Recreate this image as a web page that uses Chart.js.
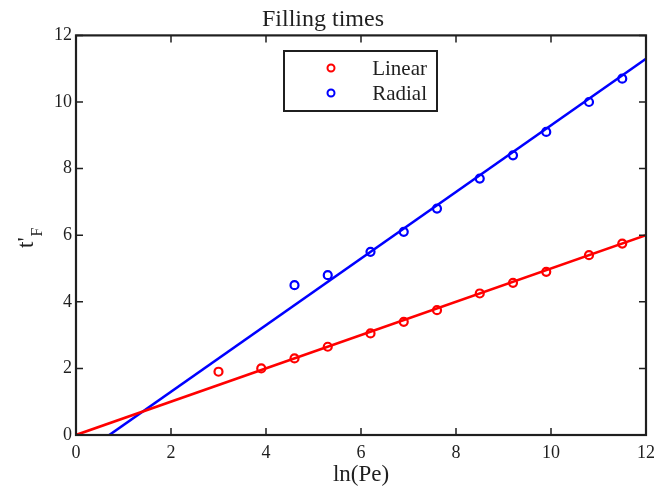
<!DOCTYPE html>
<html>
<head>
<meta charset="utf-8">
<script src="https://cdn.jsdelivr.net/npm/chart.js@4.4.1/dist/chart.umd.min.js"></script>
<style>
  html, body { margin: 0; padding: 0; background: #fff; }
  #wrap { width: 667px; height: 489px; }
</style>
</head>
<body>
<div id="wrap"><canvas id="chart"></canvas></div>
<script>
// data
const linearLnPe = [3.0, 3.9, 4.6, 5.3, 6.2, 6.9, 7.6, 8.5, 9.2, 9.9, 10.8, 11.5];
const linearTF = [1.9, 2.0, 2.3, 2.65, 3.05, 3.4, 3.75, 4.25, 4.57, 4.9, 5.4, 5.75];
const radialLnPe = [4.6, 5.3, 6.2, 6.9, 7.6, 8.5, 9.2, 9.9, 10.8, 11.5];
const radialTF = [4.5, 4.8, 5.5, 6.1, 6.8, 7.7, 8.4, 9.1, 10.0, 10.7];
const linearFitX = [0, 12];
const linearFitY = [0, 6];
const radialFitX = [0.7, 12];
const radialFitY = [0, 11.3];
const xTicks = [0, 2, 4, 6, 8, 10, 12];
const yTicks = [0, 2, 4, 6, 8, 10, 12];
const seriesNames = ['Linear', 'Radial'];

const serif = "'Liberation Serif', 'Times New Roman', serif";
const ink = '#1f1f1f';
const RED = '#ff0000';
const BLUE = '#0000ff';

function pts(xs, ys) {
    return xs.map((x, i) => ({ x: x, y: ys[i] }));
}

// box around the axes + inward ticks on all four sides
const boxPlugin = {
    id: 'box',
    afterDraw(chart) {
        const { ctx, chartArea: a, scales } = chart;
        ctx.save();
        ctx.strokeStyle = ink;
        ctx.lineWidth = 2.2;
        ctx.strokeRect(a.left, a.top, a.right - a.left, a.bottom - a.top);
        ctx.lineWidth = 1.5;
        ctx.beginPath();
        xTicks.forEach(v => {
            const px = scales.x.getPixelForValue(v);
            ctx.moveTo(px, a.bottom); ctx.lineTo(px, a.bottom - 7);
            ctx.moveTo(px, a.top); ctx.lineTo(px, a.top + 7);
        });
        yTicks.forEach(v => {
            const py = scales.y.getPixelForValue(v);
            ctx.moveTo(a.left, py); ctx.lineTo(a.left + 7, py);
            ctx.moveTo(a.right, py); ctx.lineTo(a.right - 7, py);
        });
        ctx.stroke();
        ctx.restore();
    }
};

// y label t'_F with subscript
const yLabelPlugin = {
    id: 'ylabel',
    afterDraw(chart) {
        const ctx = chart.ctx;
        ctx.save();
        ctx.translate(33, 248);
        ctx.rotate(-Math.PI / 2);
        ctx.fillStyle = ink;
        ctx.textAlign = 'left';
        ctx.textBaseline = 'alphabetic';
        ctx.font = '23px ' + serif;
        ctx.fillText("t'", 0, 0);
        const w = ctx.measureText("t'").width;
        ctx.font = '16px ' + serif;
        ctx.fillText('F', w + 1, 9);
        ctx.restore();
    }
};

// legend box inside the axes
const legendPlugin = {
    id: 'boxLegend',
    afterDraw(chart) {
        const ctx = chart.ctx;
        const cx = (chart.chartArea.left + chart.chartArea.right) / 2;
        const left = cx - 77, top = 51, w = 153, h = 60;
        ctx.save();
        ctx.fillStyle = '#fff';
        ctx.fillRect(left, top, w, h);
        ctx.strokeStyle = ink;
        ctx.lineWidth = 2;
        ctx.strokeRect(left, top, w, h);
        ctx.font = '21px ' + serif;
        ctx.textAlign = 'right';
        ctx.textBaseline = 'middle';
        [RED, BLUE].forEach((c, i) => {
            const y = top + 17 + i * 25;
            ctx.beginPath();
            ctx.arc(left + 47, y, 3.5, 0, Math.PI * 2);
            ctx.strokeStyle = c;
            ctx.lineWidth = 2;
            ctx.stroke();
            ctx.fillStyle = ink;
            ctx.fillText(seriesNames[i], left + 143, y + 1);
        });
        ctx.restore();
    }
};

new Chart(document.getElementById('chart'), {
    type: 'scatter',
    data: {
        datasets: [
            {
                label: 'Linear fit',
                data: pts(linearFitX, linearFitY),
                showLine: true,
                borderColor: RED,
                borderWidth: 2.6,
                pointRadius: 0
            },
            {
                label: 'Radial fit',
                data: pts(radialFitX, radialFitY),
                showLine: true,
                borderColor: BLUE,
                borderWidth: 2.6,
                pointRadius: 0
            },
            {
                label: seriesNames[0],
                data: pts(linearLnPe, linearTF),
                borderColor: RED,
                backgroundColor: 'rgba(0,0,0,0)',
                borderWidth: 2.2,
                pointRadius: 4
            },
            {
                label: seriesNames[1],
                data: pts(radialLnPe, radialTF),
                borderColor: BLUE,
                backgroundColor: 'rgba(0,0,0,0)',
                borderWidth: 2.2,
                pointRadius: 4
            }
        ]
    },
    options: {
        responsive: true,
        maintainAspectRatio: false,
        animation: false,
        layout: { padding: { left: 0, right: 21, top: 0, bottom: 0 } },
        plugins: {
            legend: { display: false },
            tooltip: { enabled: false },
            title: {
                display: true,
                text: 'Filling times',
                color: ink,
                font: { family: serif, size: 24, weight: 'normal', lineHeight: 1.1 },
                padding: { top: 7, bottom: 2 }
            }
        },
        scales: {
            x: {
                type: 'linear',
                min: 0,
                max: 12,
                afterBuildTicks(scale) { scale.ticks = xTicks.map(v => ({ value: v })); },
                afterFit(scale) { scale.height = 54; },
                ticks: { color: ink, font: { family: serif, size: 18 }, padding: 7 },
                grid: { display: false, drawTicks: false },
                border: { display: false },
                title: {
                    display: true,
                    text: 'ln(Pe)',
                    color: ink,
                    font: { family: serif, size: 23 },
                    padding: { top: 3, bottom: 0 }
                }
            },
            y: {
                type: 'linear',
                min: 0,
                max: 12,
                afterBuildTicks(scale) { scale.ticks = yTicks.map(v => ({ value: v })); },
                afterFit(scale) { scale.width = 76; },
                ticks: { color: ink, font: { family: serif, size: 18 }, padding: 4 },
                grid: { display: false, drawTicks: false },
                border: { display: false }
            }
        }
    },
    plugins: [boxPlugin, yLabelPlugin, legendPlugin]
});
</script>
</body>
</html>
